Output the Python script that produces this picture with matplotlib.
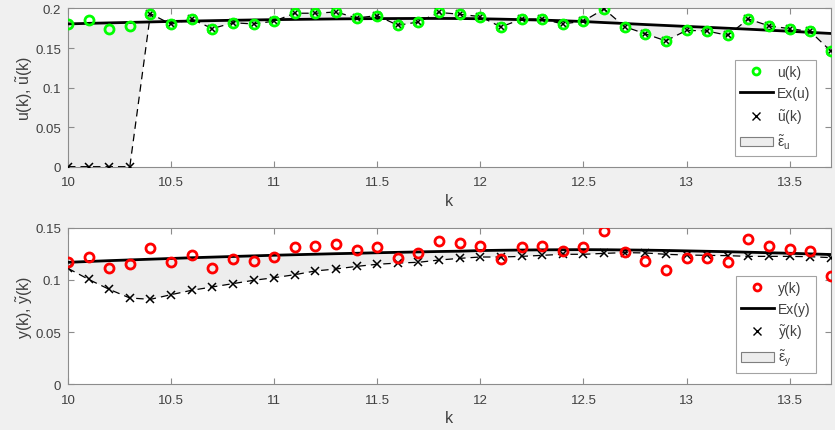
import numpy as np
import matplotlib
matplotlib.use("Agg")
from matplotlib import pyplot as plt
from matplotlib.patches import Patch
from matplotlib.lines import Line2D

plt.rcParams['font.family'] = ['Liberation Sans', 'DejaVu Sans']
plt.rcParams['mathtext.fontset'] = 'custom'
plt.rcParams['mathtext.rm'] = 'Liberation Sans'
plt.rcParams['mathtext.it'] = 'Liberation Sans'

k = [10.0, 10.1, 10.2, 10.3, 10.4, 10.5, 10.6, 10.7, 10.8, 10.9,
     11.0, 11.1, 11.2, 11.3, 11.4, 11.5, 11.6, 11.7, 11.8, 11.9,
     12.0, 12.1, 12.2, 12.3, 12.4, 12.5, 12.6, 12.7, 12.8, 12.9,
     13.0, 13.1, 13.2, 13.3, 13.4, 13.5, 13.6, 13.7]

u = [0.180, 0.185, 0.1745, 0.178, 0.1935, 0.180, 0.1867, 0.1745, 0.182, 0.1804,
     0.184, 0.194, 0.194, 0.1956, 0.188, 0.191, 0.1787, 0.183, 0.195, 0.1927,
     0.1897, 0.1766, 0.1867, 0.1867, 0.1804, 0.184, 0.1994, 0.177, 0.168, 0.159,
     0.1724, 0.1715, 0.166, 0.1867, 0.178, 0.1745, 0.171, 0.146]
u_tilde = [0, 0, 0, 0] + u[4:]
ex_u = [0.1805, 0.1812, 0.1818, 0.1824, 0.1830, 0.1836, 0.1841, 0.1846, 0.1851, 0.1855,
        0.1859, 0.1862, 0.1865, 0.1868, 0.1870, 0.1872, 0.1873, 0.1874, 0.1874, 0.1873,
        0.1870, 0.1865, 0.1859, 0.1853, 0.1845, 0.1835, 0.1822, 0.1810, 0.1797, 0.1785,
        0.1773, 0.1762, 0.1750, 0.1738, 0.1725, 0.1712, 0.1698, 0.1684]

y = [0.117, 0.1224, 0.1118, 0.1151, 0.1305, 0.1176, 0.1243, 0.1118, 0.1205, 0.1183,
     0.1221, 0.1317, 0.1327, 0.1349, 0.1288, 0.1317, 0.1215, 0.1256, 0.1375, 0.1356,
     0.133, 0.1202, 0.1317, 0.1324, 0.1276, 0.1314, 0.1474, 0.1272, 0.1183, 0.1099,
     0.1211, 0.1211, 0.117, 0.1391, 0.1324, 0.1298, 0.1279, 0.1041]
y_tilde = [0.1112, 0.1006, 0.091, 0.0827, 0.0814, 0.0859, 0.0901, 0.0933, 0.0965, 0.0997,
           0.1022, 0.1051, 0.1087, 0.1106, 0.1131, 0.1151, 0.1163, 0.117, 0.1192, 0.1208,
           0.1221, 0.1221, 0.1227, 0.1237, 0.1247, 0.1247, 0.1256, 0.1263, 0.126, 0.1247,
           0.124, 0.1237, 0.1234, 0.1227, 0.1227, 0.1227, 0.1224, 0.1215]
ex_y = [0.1170, 0.1178, 0.1186, 0.1193, 0.1200, 0.1207, 0.1214, 0.1220, 0.1226, 0.1232,
        0.1238, 0.1243, 0.1248, 0.1253, 0.1257, 0.1262, 0.1266, 0.1270, 0.1274, 0.1277,
        0.1283, 0.1286, 0.1288, 0.1290, 0.1291, 0.1292, 0.1291, 0.1289, 0.1287, 0.1284,
        0.1280, 0.1276, 0.1272, 0.1267, 0.1262, 0.1257, 0.1251, 0.1245]

txt = '#404040'
edge = '#8c8c8c'
fill_c = '#ededed'

fig = plt.figure(figsize=(8.35, 4.31), dpi=100, facecolor='#f0f0f0')
ax1 = fig.add_axes([0.0814, 0.611, 0.9136, 0.367])
ax2 = fig.add_axes([0.0814, 0.1067, 0.9136, 0.362])


def draw(ax, meas, ex, tilde, name, ylim, yticks, color):
    ax.set_facecolor('white')
    ax.fill_between(k, tilde, ex, facecolor=fill_c, edgecolor='none', zorder=1)
    ax.plot(k, tilde, color='black', ls=(0, (6, 4)), lw=0.9, zorder=2)
    ax.plot(k, tilde, ls='none', marker='x', ms=6, mew=1.1, color='black', zorder=4)
    ax.plot(k, ex, color='black', lw=2, zorder=3)
    ax.plot(k, meas, ls='none', marker='o', ms=6.5, mfc='none', mec=color, mew=2, zorder=5)
    ax.set_xlim(10, 13.7)
    ax.set_ylim(*ylim)
    ax.set_xticks([10, 10.5, 11, 11.5, 12, 12.5, 13, 13.5])
    ax.set_xticklabels(['10', '10.5', '11', '11.5', '12', '12.5', '13', '13.5'])
    ax.set_yticks(yticks)
    ax.set_yticklabels(['0' if t == 0 else ('%g' % t) for t in yticks])
    ax.tick_params(direction='in', top=True, right=True, length=4, width=0.8,
                   colors=edge, labelcolor=txt, labelsize=9.5)
    ax.tick_params(axis='x', pad=7)
    ax.tick_params(axis='y', pad=5)
    for s in ax.spines.values():
        s.set_color(edge)
        s.set_linewidth(0.8)
    ax.set_xlabel('k', fontsize=11.5, color=txt, labelpad=3)
    ax.set_ylabel(name + r'(k), $\tilde{' + name + r'}$(k)', fontsize=11.5, color=txt, labelpad=0)
    handles = [
        Line2D([], [], ls='none', marker='o', ms=5, mfc='none', mec=color, mew=2),
        Line2D([], [], color='black', lw=2),
        Line2D([], [], ls='none', marker='x', ms=6, mew=1, color='black'),
        Patch(facecolor=fill_c, edgecolor='#7f7f7f', lw=0.8),
    ]
    labels = [name + '(k)', 'Ex(' + name + ')', r'$\tilde{' + name + r'}$(k)',
              r'$\tilde{\epsilon}_{' + name + '}$']
    leg = ax.legend(handles, labels, loc='lower right', bbox_to_anchor=(0.98, 0.07),
                    fontsize=10, frameon=True, fancybox=False, borderpad=0.35,
                    handlelength=2.4, handletextpad=0.3, labelspacing=0.5,
                    borderaxespad=0)
    leg.get_frame().set_edgecolor(edge)
    leg.get_frame().set_linewidth(0.8)
    for t in leg.get_texts():
        t.set_color(txt)


draw(ax1, u, ex_u, u_tilde, 'u', (0, 0.2), [0, 0.05, 0.1, 0.15, 0.2], '#00ff00')
draw(ax2, y, ex_y, y_tilde, 'y', (0, 0.15), [0, 0.05, 0.1, 0.15], '#ff0000')

fig.savefig('out.png', dpi=100, facecolor=fig.get_facecolor())
